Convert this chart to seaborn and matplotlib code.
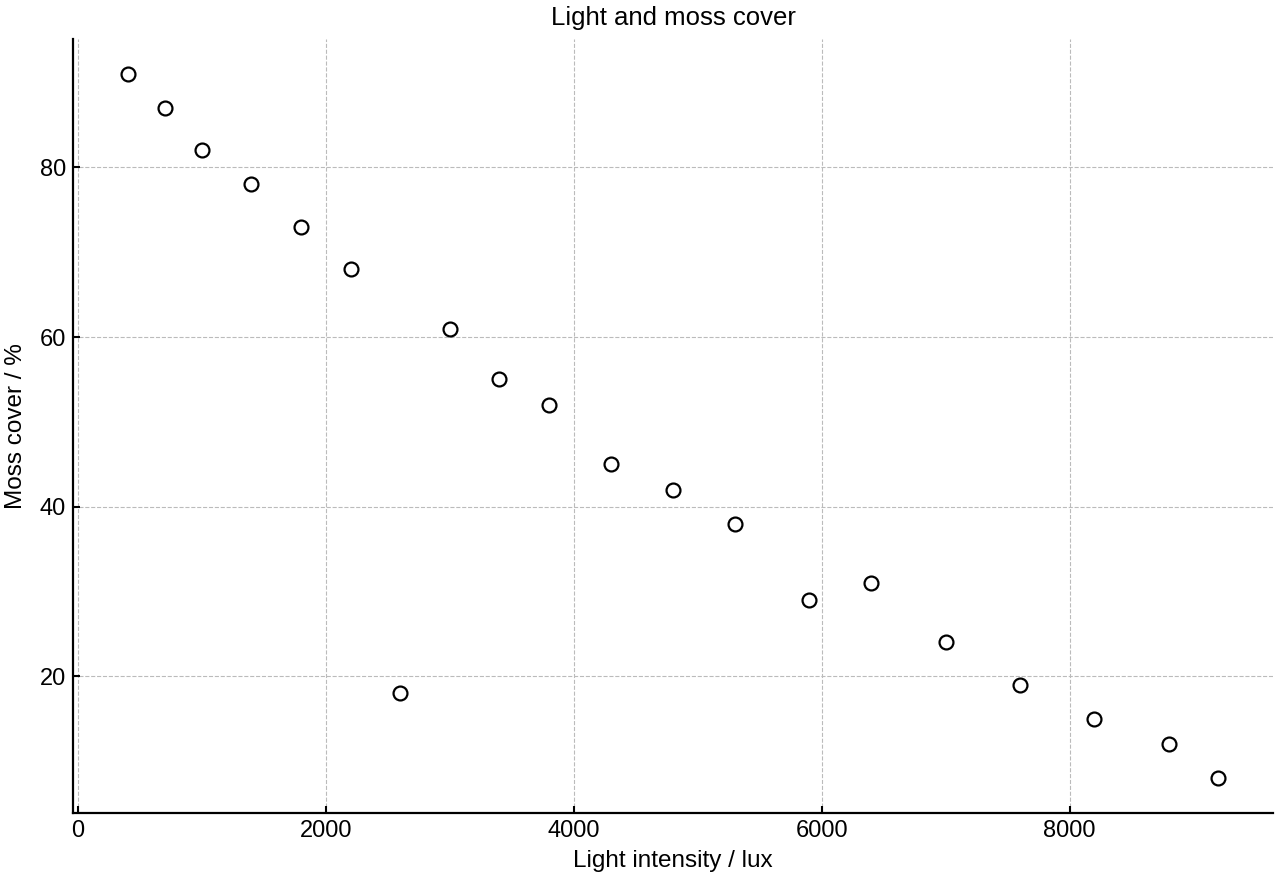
import numpy as np
import pandas as pd
import seaborn as sns
import matplotlib.pyplot as plt

# Light intensity vs moss cover
light_lux = [400, 700, 1000, 1400, 1800, 2200, 2600, 3000, 3400, 3800,
             4300, 4800, 5300, 5900, 6400, 7000, 7600, 8200, 8800, 9200]
moss_cover = [91, 87, 82, 78, 73, 68, 18, 61, 55, 52,
              45, 42, 38, 29, 31, 24, 19, 15, 12, 8]

df = pd.DataFrame({'light': light_lux, 'moss': moss_cover})

sns.set_style('ticks')
plt.rcParams['font.family'] = ['Liberation Sans', 'DejaVu Sans']
plt.rcParams['text.color'] = 'black'
plt.rcParams['axes.labelcolor'] = 'black'
plt.rcParams['xtick.color'] = 'black'
plt.rcParams['ytick.color'] = 'black'

fig = plt.figure(figsize=(12.8, 8.8), dpi=100)
ax = fig.add_axes([0.057, 0.076, 0.9375, 0.8797])

sns.scatterplot(data=df, x='light', y='moss', ax=ax, s=100,
                facecolor='white', edgecolor='black', linewidth=1.6, zorder=3)

ax.set_title('Light and moss cover', fontsize=18.5, pad=10)
ax.set_xlabel('Light intensity / lux', fontsize=17.5, labelpad=6)
ax.set_ylabel('Moss cover / %', fontsize=17.5, labelpad=9)
ax.set_xticks([0, 2000, 4000, 6000, 8000])
ax.set_yticks([20, 40, 60, 80])
ax.tick_params(direction='in', length=5, width=1.5, labelsize=17, pad=5)
ax.grid(True, linestyle='--', color='#bbbbbb', linewidth=0.8)
ax.set_axisbelow(True)
sns.despine(ax=ax)
for side in ['left', 'bottom']:
    ax.spines[side].set_linewidth(1.6)
    ax.spines[side].set_color('black')

fig.savefig('out.png', dpi=100)
